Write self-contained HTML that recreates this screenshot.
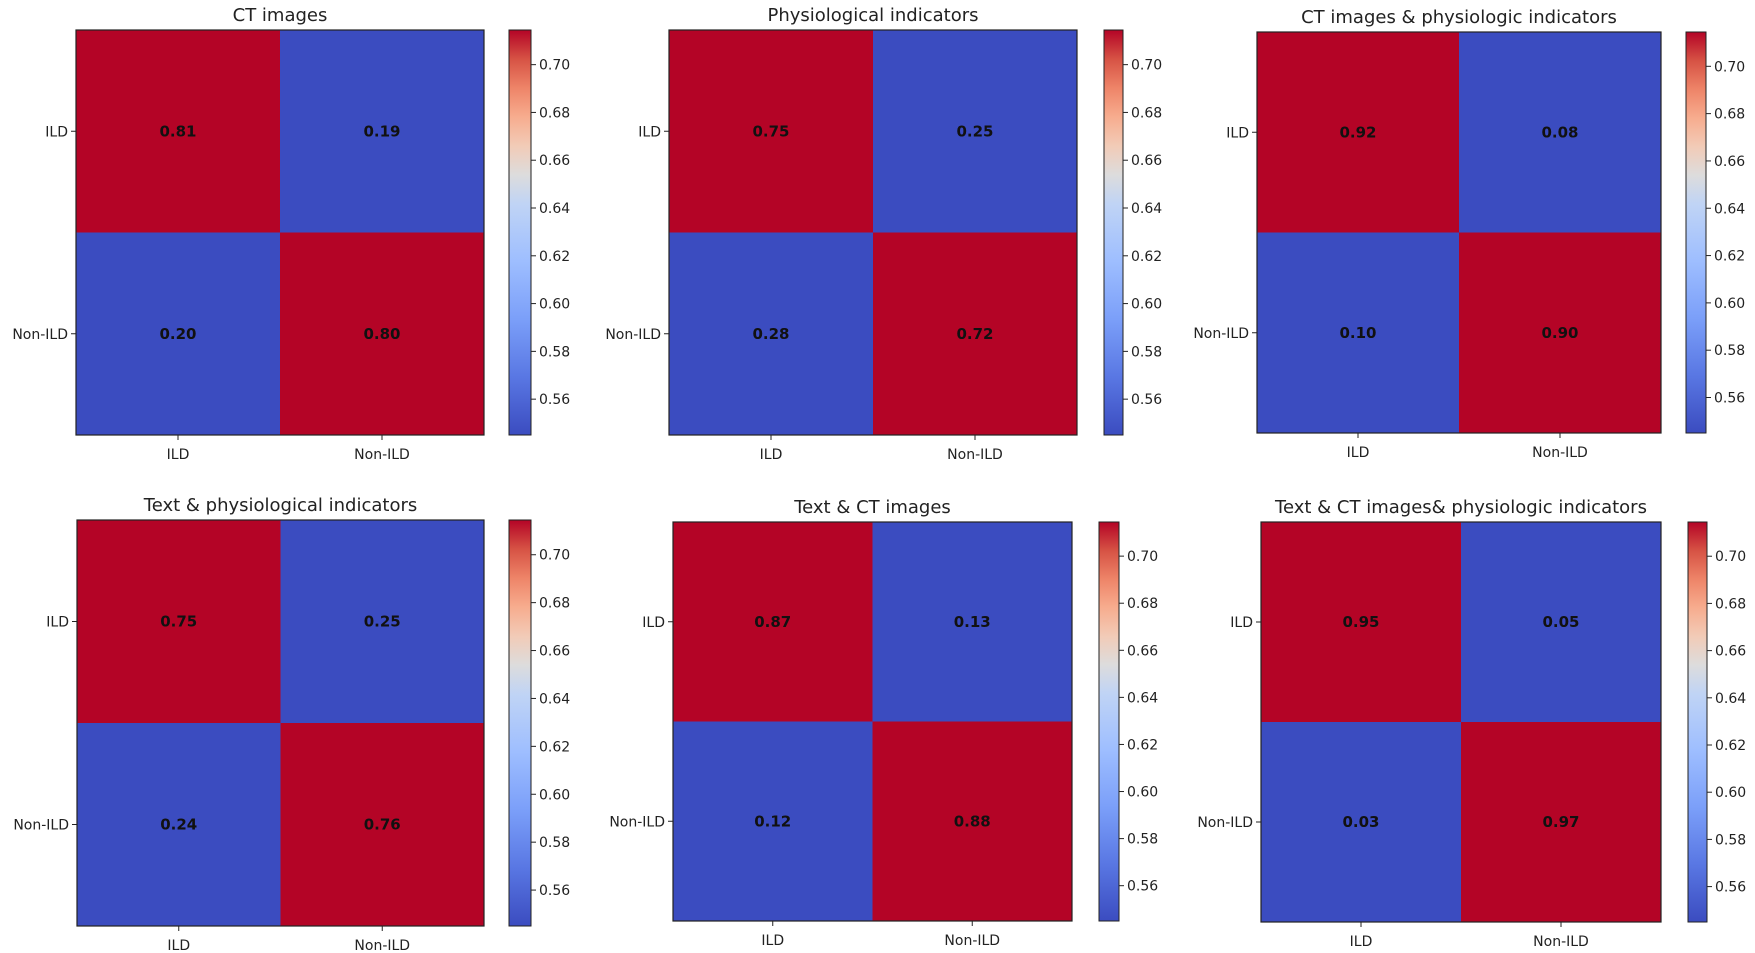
<!DOCTYPE html>
<html><head><meta charset="utf-8">
<style>
html,body{margin:0;padding:0;background:#fff;}
svg{display:block;font-family:"DejaVu Sans","Liberation Sans",sans-serif;}
</style></head>
<body>
<svg id="fig" width="1755" height="953" viewBox="0 0 1755 953" xmlns="http://www.w3.org/2000/svg">
<defs>
<linearGradient id="cw" x1="0" y1="1" x2="0" y2="0">
<stop offset="0" stop-color="#3b4cc0"/><stop offset="0.143" stop-color="#5977e3"/>
<stop offset="0.286" stop-color="#7b9ff9"/><stop offset="0.429" stop-color="#9ebeff"/>
<stop offset="0.571" stop-color="#c0d4f5"/><stop offset="0.643" stop-color="#dddcdc"/>
<stop offset="0.714" stop-color="#f2cbb7"/><stop offset="0.786" stop-color="#f7ac8e"/>
<stop offset="0.857" stop-color="#ee8468"/><stop offset="0.929" stop-color="#d65244"/>
<stop offset="1" stop-color="#b40426"/>
</linearGradient>
</defs>
</svg>
<script>
const classLabels = ["ILD", "Non-ILD"];
const panelTitles = ["CT images", "Physiological indicators", "CT images & physiologic indicators",
  "Text & physiological indicators", "Text & CT images", "Text & CT images& physiologic indicators"];
const valuesCT = [[0.81, 0.19], [0.20, 0.80]];
const valuesPhys = [[0.75, 0.25], [0.28, 0.72]];
const valuesCTPhys = [[0.92, 0.08], [0.10, 0.90]];
const valuesTextPhys = [[0.75, 0.25], [0.24, 0.76]];
const valuesTextCT = [[0.87, 0.13], [0.12, 0.88]];
const valuesAll = [[0.95, 0.05], [0.03, 0.97]];
const colorbarTicks = [0.56, 0.58, 0.60, 0.62, 0.64, 0.66, 0.68, 0.70];
const vmin = 0.545, vmax = 0.7145;

const panelValues = [valuesCT, valuesPhys, valuesCTPhys, valuesTextPhys, valuesTextCT, valuesAll];
const layouts = [
  {x0:76,x1:484,y0:30,y1:435,cb0:509,cb1:531},
  {x0:669,x1:1077,y0:30,y1:435,cb0:1104,cb1:1123},
  {x0:1257,x1:1661,y0:32,y1:433,cb0:1686,cb1:1706},
  {x0:77,x1:484,y0:520,y1:926,cb0:509,cb1:531},
  {x0:673,x1:1072,y0:522,y1:921,cb0:1099,cb1:1119},
  {x0:1261,x1:1661,y0:522,y1:922,cb0:1688,cb1:1707}
];
const stops = [[0,[59,76,192]],[0.25,[122,159,248]],[0.5,[221,220,220]],[0.75,[244,154,123]],[1,[180,4,38]]];
function cmap(v){
  let t=(v-vmin)/(vmax-vmin); t=Math.max(0,Math.min(1,t));
  for(let i=1;i<stops.length;i++){
    if(t<=stops[i][0]){
      const a=stops[i-1],b=stops[i],f=(t-a[0])/(b[0]-a[0]);
      const c=a[1].map((x,k)=>Math.round(x+(b[1][k]-x)*f));
      return `rgb(${c[0]},${c[1]},${c[2]})`;
    }
  }
  return "rgb(180,4,38)";
}
const NS="http://www.w3.org/2000/svg";
const svg=document.getElementById("fig");
function mk(tag,attrs,parent){const e=document.createElementNS(NS,tag);for(const k in attrs)e.setAttribute(k,attrs[k]);(parent||svg).appendChild(e);return e;}

panelValues.forEach((vals,p)=>{
  const L=layouts[p];
  const g=mk("g",{});
  
  
  const n=classLabels.length;
  const cw=(L.x1-L.x0)/n, ch=(L.y1-L.y0)/n;
  const xc=i=>L.x0+cw*(i+0.5), yc=j=>L.y0+ch*(j+0.5);
  const t=mk("text",{x:(L.x0+L.x1)/2,y:L.y0-9,"text-anchor":"middle","font-size":"18",fill:"#222"},g);
  t.textContent=panelTitles[p];
  
  
  vals.forEach((row,r)=>row.forEach((v,c)=>{
    const rc=mk("rect",{x:L.x0+cw*c,y:L.y0+ch*r,width:cw+0.5,height:ch+0.5,fill:cmap(v)},g);
    
    
    const tx=mk("text",{x:xc(c),y:yc(r)+5,"text-anchor":"middle","font-size":"15","font-weight":"bold",fill:"#111"},g);
    tx.textContent=v.toFixed(2);
    
    
  }));
  mk("rect",{x:L.x0,y:L.y0,width:L.x1-L.x0,height:L.y1-L.y0,fill:"none",stroke:"#222","stroke-width":1.2},g);
  classLabels.forEach((lab,i)=>{
    mk("line",{x1:xc(i),x2:xc(i),y1:L.y1,y2:L.y1+5,stroke:"#222"},g);
    const xl=mk("text",{x:xc(i),y:L.y1+24,"text-anchor":"middle","font-size":"14",fill:"#222"},g);
    xl.textContent=lab;
    
    
    mk("line",{x1:L.x0-5,x2:L.x0,y1:yc(i),y2:yc(i),stroke:"#222"},g);
    const yl=mk("text",{x:L.x0-8,y:yc(i)+5,"text-anchor":"end","font-size":"14",fill:"#222"},g);
    yl.textContent=lab;
    
    
  });
  const cb=mk("rect",{x:L.cb0,y:L.y0,width:L.cb1-L.cb0,height:L.y1-L.y0,fill:"url(#cw)",stroke:"#222","stroke-width":1},g);
  
  
  const cy=v=>L.y1-(v-vmin)/(vmax-vmin)*(L.y1-L.y0);
  colorbarTicks.forEach(v=>{
    mk("line",{x1:L.cb1,x2:L.cb1+5,y1:cy(v),y2:cy(v),stroke:"#222"},g);
    const tl=mk("text",{x:L.cb1+8,y:cy(v)+5,"font-size":"14",fill:"#222"},g);
    tl.textContent=v.toFixed(2);
    
    
  });
});
</script>
</body></html>
